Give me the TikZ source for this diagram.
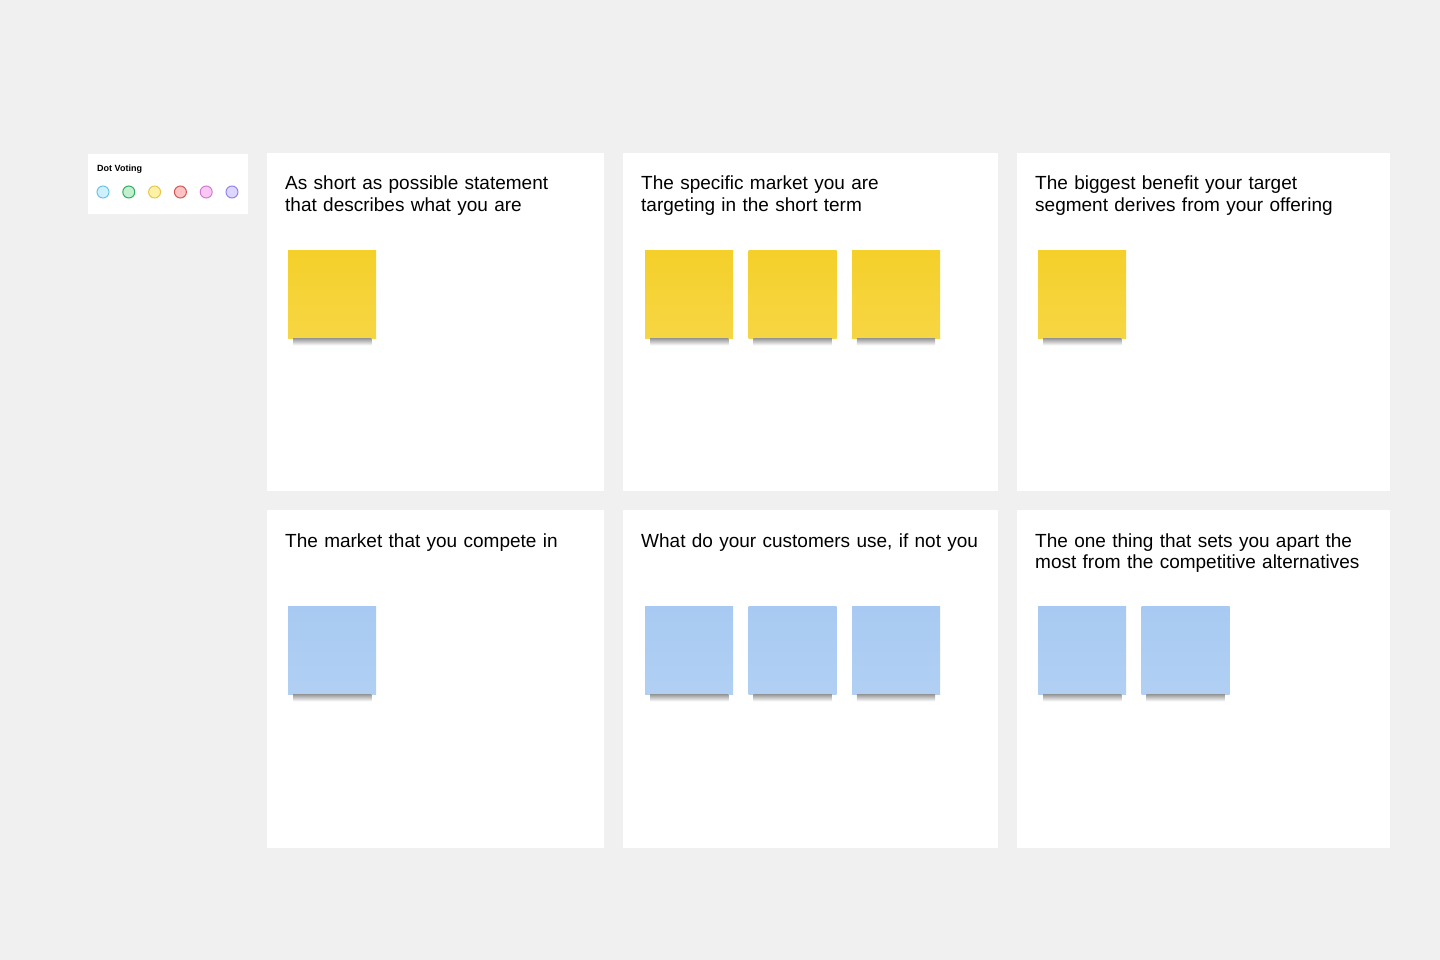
\documentclass[tikz,border=0pt]{standalone}
\usepackage{fontspec}
\setmainfont{Liberation Sans}
\usepackage{tikz}
\usetikzlibrary{positioning}

\definecolor{board}{HTML}{F0F0F0}
\definecolor{noteyellow}{HTML}{F5D02A}
\definecolor{noteblue}{HTML}{A8CAF2}

\begin{document}
\begin{tikzpicture}[
        x=1pt, y=-1pt,
        node distance=15pt,
        panel/.style={rectangle, fill=white, anchor=north west, minimum width=#1, minimum height=338pt, inner sep=0pt},
        heading/.style={anchor=base west, inner sep=0pt, align=left, text width=360pt, font=\fontsize{19}{21.5}\selectfont},
        yellownote/.style={rectangle, top color=noteyellow, bottom color=noteyellow!88!white, minimum size=88pt, inner sep=0pt},
        bluenote/.style={rectangle, top color=noteblue, bottom color=noteblue!90!white, minimum size=88pt, inner sep=0pt},
        noteshadow/.style={top color=black!40, bottom color=white},
        dot/.style={circle, draw=#1line, fill=#1fill, line width=1pt, minimum size=12pt, inner sep=0pt}
    ]

        % dot colours
        \definecolor{cyanfill}{HTML}{CFF1FF} \definecolor{cyanline}{HTML}{6CC3E8}
        \definecolor{greenfill}{HTML}{C2EFCF} \definecolor{greenline}{HTML}{2EAE5A}
        \definecolor{yellowfill}{HTML}{FFF1A6} \definecolor{yellowline}{HTML}{E6C84C}
        \definecolor{redfill}{HTML}{FFC3C3} \definecolor{redline}{HTML}{D85555}
        \definecolor{pinkfill}{HTML}{FAC8F3} \definecolor{pinkline}{HTML}{CF7BD3}
        \definecolor{purplefill}{HTML}{DDD6FF} \definecolor{purpleline}{HTML}{9486EC}

        % board
        \fill[board] (0,0) rectangle (1440,960);
        \useasboundingbox (0,0) rectangle (1440,960);

        % dot voting legend
        \node[panel=160pt, minimum height=60pt] (legend) at (88,154) {};
        \node[anchor=base west, inner sep=0pt, font=\fontsize{9}{10}\selectfont\bfseries] (legendtitle) at ([shift={(9,18)}]legend.north west) {Dot Voting};
        \node[dot=cyan] (d1) at (103,192) {};
        \node[dot=green, right=12.8pt of d1] (d2) {};
        \node[dot=yellow, right=12.8pt of d2] (d3) {};
        \node[dot=red, right=12.8pt of d3] (d4) {};
        \node[dot=pink, right=12.8pt of d4] (d5) {};
        \node[dot=purple, right=12.8pt of d5] (d6) {};

        % panels
        \node[panel=337pt] (p11) at (267,153) {};
        \node[panel=375pt] (p12) at (623,153) {};
        \node[panel=373pt] (p13) at (1017,153) {};
        \node[panel=337pt] (p21) at (267,510) {};
        \node[panel=375pt] (p22) at (623,510) {};
        \node[panel=373pt] (p23) at (1017,510) {};

        % questions
        \node[heading] (t11) at ([shift={(18,37)}]p11.north west) {As short as possible statement\\that describes what you are};
        \node[heading] (t12) at ([shift={(18,37)}]p12.north west) {The specific market you are\\targeting in the short term};
        \node[heading] (t13) at ([shift={(18,37)}]p13.north west) {The biggest benefit your target\\segment derives from your offering};
        \node[heading] (t21) at ([shift={(18,37)}]p21.north west) {The market that you compete in};
        \node[heading] (t22) at ([shift={(18,37)}]p22.north west) {What do your customers use, if not you};
        \node[heading] (t23) at ([shift={(18,37)}]p23.north west) {The one thing that sets you apart the\\most from the competitive alternatives};

        % sticky notes
        \node[yellownote, below right=97pt and 21pt of p11.north west] (n11a) {};
        \node[yellownote, below right=97pt and 22pt of p12.north west] (n12a) {};
        \node[yellownote, right=of n12a] (n12b) {};
        \node[yellownote, right=of n12b] (n12c) {};
        \node[yellownote, below right=97pt and 21pt of p13.north west] (n13a) {};
        \node[bluenote, below right=96pt and 21pt of p21.north west] (n21a) {};
        \node[bluenote, below right=96pt and 22pt of p22.north west] (n22a) {};
        \node[bluenote, right=of n22a] (n22b) {};
        \node[bluenote, right=of n22b] (n22c) {};
        \node[bluenote, below right=96pt and 21pt of p23.north west] (n23a) {};
        \node[bluenote, right=of n23a] (n23b) {};

        \foreach \n in {n11a,n12a,n12b,n12c,n13a,n21a,n22a,n22b,n22c,n23a,n23b}
            \shade[noteshadow] ([xshift=5pt]\n.south west) rectangle ([xshift=-5pt,yshift=-7pt]\n.south east);

    \end{tikzpicture}
\end{document}
